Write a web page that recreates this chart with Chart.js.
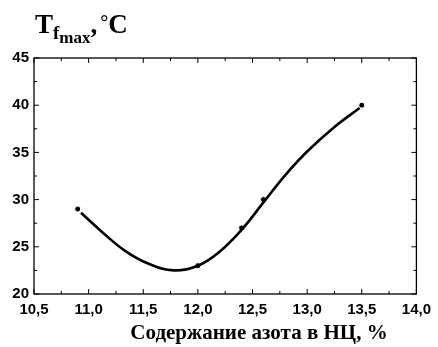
<!DOCTYPE html>
<html><head><meta charset="utf-8">
<script src="https://cdn.jsdelivr.net/npm/chart.js@4/dist/chart.umd.min.js"></script>
<style>
html,body{margin:0;padding:0;background:#fff;}
#wrap{position:relative;width:438px;height:347px;}
canvas{position:absolute;left:0;top:0;}
.yt{position:absolute;left:35px;top:11px;font-family:"Liberation Serif","DejaVu Serif",serif;font-weight:bold;font-size:27px;color:#000;white-space:nowrap;line-height:1;}
.yt .s1{font-size:19px;position:relative;top:6px;}
.yt .s2{font-size:17px;position:relative;top:4px;}
.yt .dg{font-size:20px;position:relative;top:-4px;margin-left:3px;}
.xt{position:absolute;left:0;width:438px;top:322px;padding-left:80px;box-sizing:border-box;text-align:center;font-family:"Liberation Serif","DejaVu Serif",serif;font-weight:bold;font-size:21px;color:#000;white-space:nowrap;line-height:1;}
</style></head>
<body><div id="wrap"><canvas id="c" width="438" height="347"></canvas>
<div class="yt">T<span class="s1">f<span class="s2">max</span></span>,<span class="dg">°</span>C</div>
<div class="xt">Содержание азота в НЦ, %</div></div>
<script>
const nitrogen = [10.9, 12.0, 12.4, 12.6, 13.5];
const tfmax = [29, 23, 27, 30, 40];
const curveX = [10.93, 11.12, 11.33, 11.55, 11.78, 12.0, 12.19, 12.4, 12.6, 12.8, 13.0, 13.25, 13.48];
const curveY = [28.6, 26.6, 24.6, 23.2, 22.5, 23.0, 24.4, 26.8, 29.7, 32.6, 35.1, 37.7, 39.7];
const xTicks = [10.5, 11.0, 11.5, 12.0, 12.5, 13.0, 13.5, 14.0];
const yTicks = [20, 25, 30, 35, 40, 45];

const fmt = v => v.toFixed(1).replace('.', ',');

const inTicks = {
  id: 'inTicks',
  afterDraw(chart) {
    const {ctx, chartArea: a, scales: {x, y}} = chart;
    ctx.save();
    ctx.strokeStyle = '#000';
    ctx.lineWidth = 1.3;
    ctx.strokeRect(a.left, a.top, a.right - a.left, a.bottom - a.top);
    ctx.lineWidth = 1;
    ctx.beginPath();
    for (let v = 10.5; v <= 14.001; v += 0.25) {
      const major = Math.abs(v * 2 - Math.round(v * 2)) < 1e-6;
      const L = major ? 5 : 3;
      const px = x.getPixelForValue(v);
      ctx.moveTo(px, a.bottom); ctx.lineTo(px, a.bottom - L);
      ctx.moveTo(px, a.top); ctx.lineTo(px, a.top + L);
    }
    for (let v = 20; v <= 45.001; v += 2.5) {
      const major = Math.abs(v / 5 - Math.round(v / 5)) < 1e-6;
      const L = major ? 5 : 3;
      const py = y.getPixelForValue(v);
      ctx.moveTo(a.left, py); ctx.lineTo(a.left + L, py);
      ctx.moveTo(a.right, py); ctx.lineTo(a.right - L, py);
    }
    ctx.stroke();
    ctx.restore();
  }
};

new Chart(document.getElementById('c'), {
  type: 'scatter',
  data: {
    datasets: [
      {
        data: curveX.map((v, i) => ({x: v, y: curveY[i]})),
        showLine: true, borderColor: '#000', borderWidth: 2.6,
        pointRadius: 0, tension: 0.4, fill: false
      },
      {
        data: nitrogen.map((v, i) => ({x: v, y: tfmax[i]})),
        showLine: false, pointRadius: 3, pointBackgroundColor: '#000',
        pointBorderColor: '#fff', pointBorderWidth: 1
      }
    ]
  },
  options: {
    responsive: false, animation: false, devicePixelRatio: 1,
    layout: {padding: {left: 0, right: 17, top: 58, bottom: 29}},
    plugins: {legend: {display: false}, tooltip: {enabled: false}},
    scales: {
      x: {
        type: 'linear', min: 10.5, max: 14.0,
        afterBuildTicks: s => { s.ticks = xTicks.map(v => ({value: v})); },
        afterFit: s => { s.height = 24; },
        grid: {display: false, drawTicks: false},
        border: {display: false},
        ticks: {color: '#000', padding: 7, maxRotation: 0, autoSkip: false,
          font: {family: '"Liberation Sans", Arial, sans-serif', size: 15, weight: 'bold'},
          callback: v => fmt(v)}
      },
      y: {
        min: 20, max: 45,
        afterBuildTicks: s => { s.ticks = yTicks.map(v => ({value: v})); },
        afterFit: s => { s.width = 34; },
        grid: {display: false, drawTicks: false},
        border: {display: false},
        ticks: {color: '#000', padding: 5,
          font: {family: '"Liberation Sans", Arial, sans-serif', size: 15, weight: 'bold'},
          callback: v => String(v)}
      }
    }
  },
  plugins: [inTicks]
});
</script></body></html>
